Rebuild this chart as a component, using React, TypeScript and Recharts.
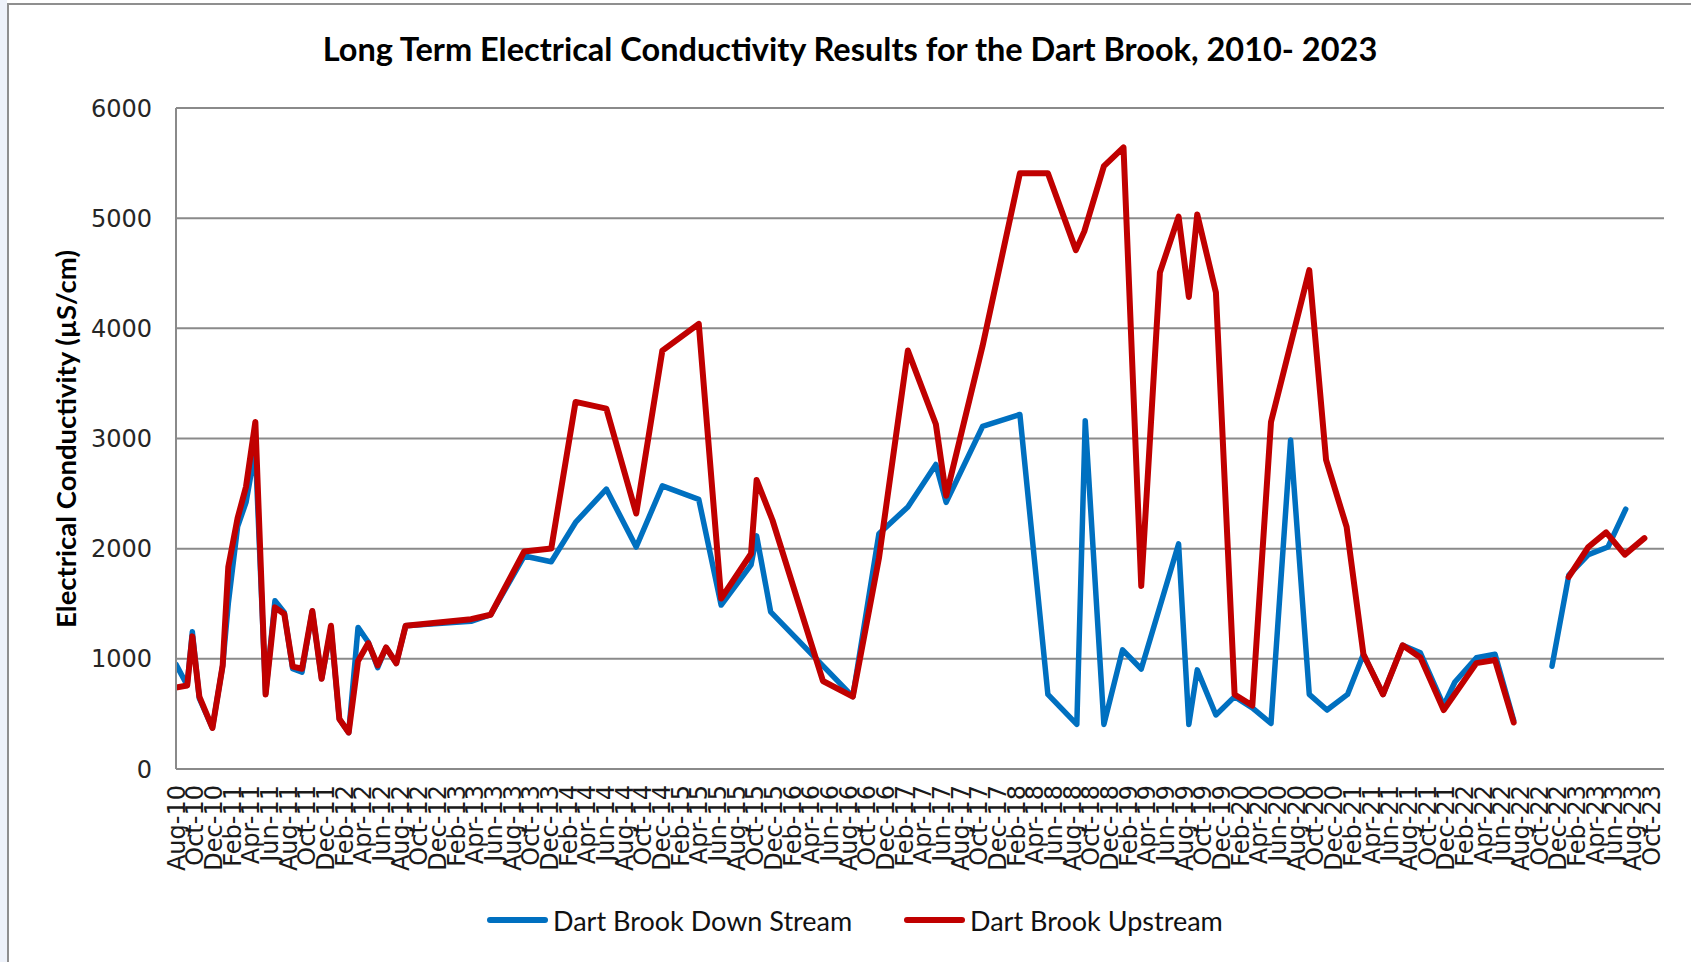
import { CartesianGrid, Label, Line, LineChart, XAxis, YAxis } from "recharts";

const monthNames = ["Jan", "Feb", "Mar", "Apr", "May", "Jun", "Jul", "Aug", "Sep", "Oct", "Nov", "Dec"];

// sample dates, as months since Aug-2010 (date axis)
const downStreamMonths = [
  0, 1.2, 1.75, 2.5, 3.9, 5.0, 5.6, 6.6, 7.5, 8.5, 9.6, 10.6, 11.6, 12.5, 13.5, 14.6, 15.6, 16.6, 17.5, 18.5,
  19.5, 20.6, 21.6, 22.5, 23.6, 24.6, 31.6, 33.7, 37.3, 40.2, 42.8, 46.1, 49.3, 52.1, 56.0, 58.4, 61.6, 62.2,
  63.7, 72.5, 75.3, 78.4, 81.4, 82.5, 86.4, 90.4, 93.4, 96.5, 97.4, 99.4, 101.4, 103.4, 107.4, 108.5, 109.4,
  111.4, 113.4, 115.3, 117.3, 119.4, 121.4, 123.3, 125.5, 127.2, 129.3, 131.4, 133.3, 135.8, 137.0, 139.3,
  141.3, 143.3, 145, 147.4, 149.2, 151.3, 153.4, 155.3,
];
const downStreamEC = [
  950, 760, 1245, 640, 373, 940, 1500, 2200, 2420, 2900, 680, 1528, 1420, 910, 880, 1435, 819, 1280, 454, 330,
  1285, 1150, 920, 1103, 960, 1300, 1340, 1400, 1933, 1881, 2238, 2541, 2015, 2570, 2448, 1488, 1852, 2116,
  1427, 657, 2136, 2379, 2764, 2420, 3109, 3218, 677, 405, 3162, 405, 1082, 908, 2043, 405, 900,
  490, 657, 555, 413, 2987, 677, 535, 677, 1042, 677, 1123, 1054, 576, 790, 1010,
  1042, 440, null, 932, 1759, 1946, 2015, 2359,
];

const upStreamMonths = [
  0, 1.2, 1.75, 2.5, 3.9, 5.0, 5.6, 6.6, 7.5, 8.5, 9.6, 10.6, 11.6, 12.5, 13.5, 14.6, 15.6, 16.6, 17.5, 18.5,
  19.5, 20.6, 21.6, 22.5, 23.6, 24.6, 31.6, 33.7, 37.3, 40.2, 42.8, 46.1, 49.3, 52.1, 56.0, 58.4, 61.6, 62.2,
  63.9, 69.3, 72.5, 75.3, 78.4, 81.4, 82.5, 86.4, 90.4, 93.4, 96.4, 97.3, 99.4, 101.5, 103.4, 105.4, 107.4,
  108.5, 109.4, 111.4, 113.4, 115.3, 117.3, 121.4, 123.2, 125.4, 127.2, 129.3, 131.4, 133.3, 135.8, 139.3,
  141.3, 143.3, 145, 149.2, 151.3, 153.2, 155.2, 157.3,
];
const upStreamEC = [
  740, 758, 1204, 657, 373, 940, 1832, 2278, 2562, 3150, 677, 1467, 1407, 930, 910, 1435, 819, 1300, 454, 332,
  981, 1143, 940, 1103, 960, 1300, 1360, 1400, 1974, 2002, 3332, 3271, 2319, 3798, 4041, 1548, 1954, 2623,
  2258, 799, 657, 1913, 3798, 3129, 2481, 3839, 5407, 5407, 4710, 4880, 5472, 5643, 1662, 4507, 5014,
  4285, 5034, 4325, 677, 576, 3150, 4528, 2805, 2197, 1042, 677, 1123, 1013, 535, 961,
  989, 422, null, 1743, 2015, 2148, 1946, 2096,
];

const yTicks = [0, 1000, 2000, 3000, 4000, 5000, 6000];
// every second month from Aug-10 to Oct-23
const xTicks = Array.from({ length: 80 }, (_, i) => i * 2);

function monthLabel(m: number) {
  const idx = 7 + m;
  return `${monthNames[idx % 12]}-${10 + Math.floor(idx / 12)}`;
}

const downData = downStreamMonths.map((m, i) => ({ m, ec: downStreamEC[i] }));
const upData = upStreamMonths.map((m, i) => ({ m, ec: upStreamEC[i] }));

const BLUE = "#0070C0";
const RED = "#C00000";
const GRID = "#8a8a8a";

function MonthTick({ x, payload }: any) {
  const top = 785;
  return (
    <text
      x={x}
      y={top}
      transform={`rotate(-90 ${x} ${top})`}
      textAnchor="end"
      dy="0.36em"
      fontFamily="DejaVu Sans"
      fontSize={24}
      fill="#1a1a1a"
    >
      {monthLabel(payload.value)}
    </text>
  );
}

function LegendItem({ color, label, left }: { color: string; label: string; left: number }) {
  return (
    <div style={{ position: "absolute", left, top: 903, display: "flex", alignItems: "center", height: 34 }}>
      <div style={{ width: 61, height: 6, borderRadius: 3, background: color }} />
      <span style={{ marginLeft: 5, fontFamily: "Lato", fontSize: 27, color: "#111" }}>{label}</span>
    </div>
  );
}

export default function App() {
  return (
    <div style={{ position: "absolute", left: 0, top: 0, width: 1691, height: 962, background: "#fff", overflow: "hidden" }}>
      <div style={{ position: "absolute", left: 0, top: 0, width: 7, height: 962, background: "#eef2fa" }} />
      <div style={{ position: "absolute", left: 7, top: 3, width: 2, height: 959, background: "#8f8f8f" }} />
      <div style={{ position: "absolute", left: 7, top: 3, width: 1684, height: 2, background: "#8f8f8f" }} />
      <div
        style={{
          position: "absolute",
          left: 0,
          width: 1700,
          top: 29,
          textAlign: "center",
          fontFamily: "Lato",
          fontWeight: 700,
          fontSize: 32.5,
          color: "#000",
        }}
      >
        Long Term Electrical Conductivity Results for the Dart Brook, 2010- 2023
      </div>
      <div style={{ position: "absolute", left: 0, top: 0 }}>
        <LineChart width={1691} height={962} margin={{ top: 108, right: 27, bottom: 73, left: 0 }}>
          <CartesianGrid vertical={false} stroke={GRID} strokeWidth={2} />
          <XAxis
            type="number"
            dataKey="m"
            domain={[0, 159.4]}
            allowDataOverflow
            ticks={xTicks}
            interval={0}
            height={120}
            tick={<MonthTick />}
            tickLine={false}
            axisLine={{ stroke: GRID, strokeWidth: 2 }}
          />
          <YAxis
            type="number"
            domain={[0, 6000]}
            ticks={yTicks}
            width={176}
            tickLine={false}
            tickSize={0}
            tickMargin={24}
            axisLine={{ stroke: GRID, strokeWidth: 2 }}
            tick={{ fontFamily: "DejaVu Sans", fontSize: 24, fill: "#262626" }}
          >
            <Label
              content={() => (
                <text
                  x={65}
                  y={439}
                  transform="rotate(-90 65 439)"
                  textAnchor="middle"
                  dominantBaseline="central"
                  fontFamily="Lato"
                  fontWeight={700}
                  fontSize={27.5}
                  fill="#000"
                >
                  Electrical Conductivity (µS/cm)
                </text>
              )}
            />
          </YAxis>
          <Line
            data={downData}
            dataKey="ec"
            name="Dart Brook Down Stream"
            type="linear"
            stroke={BLUE}
            strokeWidth={5.5}
            strokeLinejoin="round"
            strokeLinecap="round"
            dot={false}
            activeDot={false}
            connectNulls={false}
            isAnimationActive={false}
          />
          <Line
            data={upData}
            dataKey="ec"
            name="Dart Brook Upstream"
            type="linear"
            stroke={RED}
            strokeWidth={6}
            strokeLinejoin="round"
            strokeLinecap="round"
            dot={false}
            activeDot={false}
            connectNulls={false}
            isAnimationActive={false}
          />
        </LineChart>
      </div>
      <LegendItem color={BLUE} label="Dart Brook Down Stream" left={487} />
      <LegendItem color={RED} label="Dart Brook Upstream" left={904} />
    </div>
  );
}
